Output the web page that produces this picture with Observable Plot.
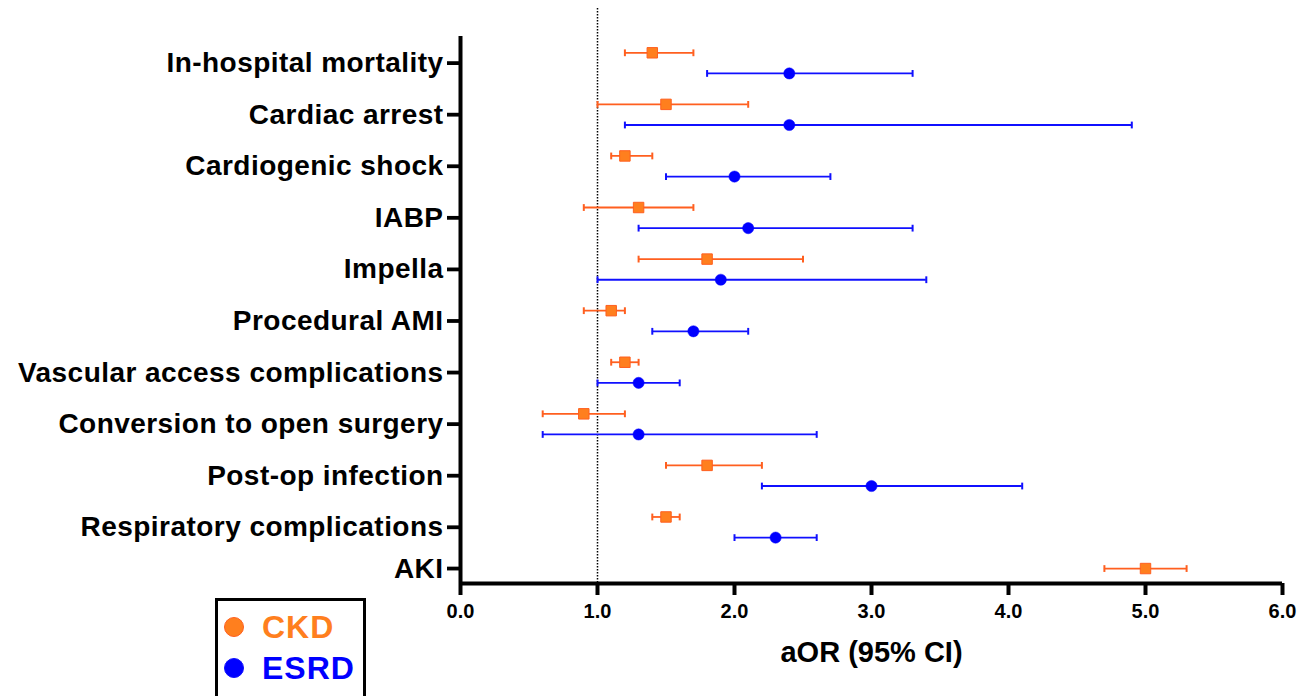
<!DOCTYPE html>
<html><head><meta charset="utf-8">
<script src="https://cdn.jsdelivr.net/npm/d3@7"></script>
<script src="https://cdn.jsdelivr.net/npm/@observablehq/plot@0.6"></script>
<style>
html,body{margin:0;padding:0;background:#fff;overflow:hidden;}
#wrap{position:relative;width:1307px;height:696px;}
#wrap svg g[aria-label="y-axis tick label"] text{letter-spacing:0.45px;}
#legend{position:absolute;left:215px;top:598px;width:145px;height:110px;border:3px solid #000;background:#fff;font-family:"Liberation Sans",Arial,sans-serif;font-weight:bold;font-size:32px;}
#legend .item{position:absolute;left:6px;height:40px;display:flex;align-items:center;}
#legend .sw{display:inline-block;width:20px;height:20px;border-radius:50%;margin-right:18px;box-sizing:border-box;}
#legend .tx{letter-spacing:1px;}
</style></head><body><div id="wrap"></div>
<script>
const categories = ["In-hospital mortality","Cardiac arrest","Cardiogenic shock","IABP","Impella","Procedural AMI","Vascular access complications","Conversion to open surgery","Post-op infection","Respiratory complications","AKI"];
const ckdEst  = [1.4,1.5,1.2,1.3,1.8,1.1,1.2,0.9,1.8,1.5,5.0];
const ckdLow  = [1.2,1.0,1.1,0.9,1.3,0.9,1.1,0.6,1.5,1.4,4.7];
const ckdHigh = [1.7,2.1,1.4,1.7,2.5,1.2,1.3,1.2,2.2,1.6,5.3];
const esrdEst  = [2.4,2.4,2.0,2.1,1.9,1.7,1.3,1.3,3.0,2.3,null];
const esrdLow  = [1.8,1.2,1.5,1.3,1.0,1.4,1.0,0.6,2.2,2.0,null];
const esrdHigh = [3.3,4.9,2.7,3.3,3.4,2.1,1.6,2.6,4.1,2.6,null];
const xTicks = [0,1,2,3,4,5,6];
const xLabel = "aOR (95% CI)";
const seriesNames = ["CKD","ESRD"];
const seriesColors = {CKD:"#ff7f1e", ESRD:"#0000ff"};
const barColors = {CKD:"#ff5f1f", ESRD:"#1010ff"};

// row layout: 5 sub-rows per category, CKD on sub-row 0, ESRD on sub-row 2
const rowsPer = 5, rowOffset = {CKD:0, ESRD:2};
const points = [];
const tickRows = [];
const labelMap = new Map();
categories.forEach((c,i)=>{
  points.push({cat:c, series:"CKD", row:rowsPer*i+rowOffset.CKD, est:ckdEst[i], lo:ckdLow[i], hi:ckdHigh[i]});
  if (esrdEst[i] != null) points.push({cat:c, series:"ESRD", row:rowsPer*i+rowOffset.ESRD, est:esrdEst[i], lo:esrdLow[i], hi:esrdHigh[i]});
  const t = esrdEst[i] != null ? rowsPer*i + (rowOffset.CKD+rowOffset.ESRD)/2 : rowsPer*i + rowOffset.CKD;
  tickRows.push(t); labelMap.set(t, c);
});
const yDomain = [-1.58, 51.45];

const capSymbol = {draw(ctx, size){ const h = Math.sqrt(size/Math.PI); ctx.moveTo(0,-h); ctx.lineTo(0,h); }};

const marks = [
  Plot.ruleX([1], {stroke:"#000", strokeWidth:1.5, strokeDasharray:"1.5,1.5", insetTop:-28})
];
for (const s of seriesNames) {
  const d = points.filter(p=>p.series===s);
  marks.push(Plot.ruleY(d, {y:"row", x1:"lo", x2:"hi", stroke:barColors[s], strokeWidth:1.8}));
  marks.push(Plot.dot(d, {x:"lo", y:"row", symbol:capSymbol, r:3.4, stroke:barColors[s], strokeWidth:2, fill:"none"}));
  marks.push(Plot.dot(d, {x:"hi", y:"row", symbol:capSymbol, r:3.4, stroke:barColors[s], strokeWidth:2, fill:"none"}));
  if (s === "CKD") marks.push(Plot.dot(d, {x:"est", y:"row", symbol:"square", r:5.9, fill:seriesColors[s], stroke:barColors[s], strokeWidth:1}));
  else marks.push(Plot.dot(d, {x:"est", y:"row", symbol:"circle", r:5.6, fill:seriesColors[s], stroke:seriesColors[s], strokeWidth:0.5}));
}
marks.push(
  Plot.ruleX([0], {stroke:"#000", strokeWidth:4}),
  Plot.ruleY([yDomain[1]], {stroke:"#000", strokeWidth:4}),
  Plot.axisY(tickRows, {anchor:"left", tickSize:13, tickPadding:4, strokeWidth:3.8, tickFormat:r=>labelMap.get(r), fontSize:28, fontWeight:"bold", label:null}),
  Plot.axisX(xTicks, {anchor:"bottom", tickSize:12, tickPadding:8, strokeWidth:4, tickFormat:d3.format(".1f"), fontSize:20, fontWeight:"bold", label:null}),
  Plot.text([xLabel], {frameAnchor:"bottom", dy:78, text:d=>d, fontSize:29, fontWeight:"bold", fill:"#000"})
);

const chart = Plot.plot({
  width:1307, height:696,
  marginLeft:460, marginRight:25, marginTop:36, marginBottom:113,
  x:{domain:[0,6]},
  y:{domain:yDomain, reverse:true},
  style:{fontFamily:"'Liberation Sans', Arial, sans-serif", color:"#000", background:"#fff"},
  marks
});
const wrap = document.getElementById("wrap");
wrap.appendChild(chart);

const legend = document.createElement("div");
legend.id = "legend";
seriesNames.forEach((s,i)=>{
  const it = document.createElement("div");
  it.className = "item";
  it.style.top = (6 + i*41) + "px";
  const sw = document.createElement("span");
  sw.className = "sw";
  sw.style.background = seriesColors[s];
  sw.style.border = "1px solid " + barColors[s];
  const tx = document.createElement("span");
  tx.className = "tx";
  tx.textContent = s;
  tx.style.color = seriesColors[s];
  it.appendChild(sw); it.appendChild(tx);
  legend.appendChild(it);
});
wrap.appendChild(legend);
</script></body></html>
